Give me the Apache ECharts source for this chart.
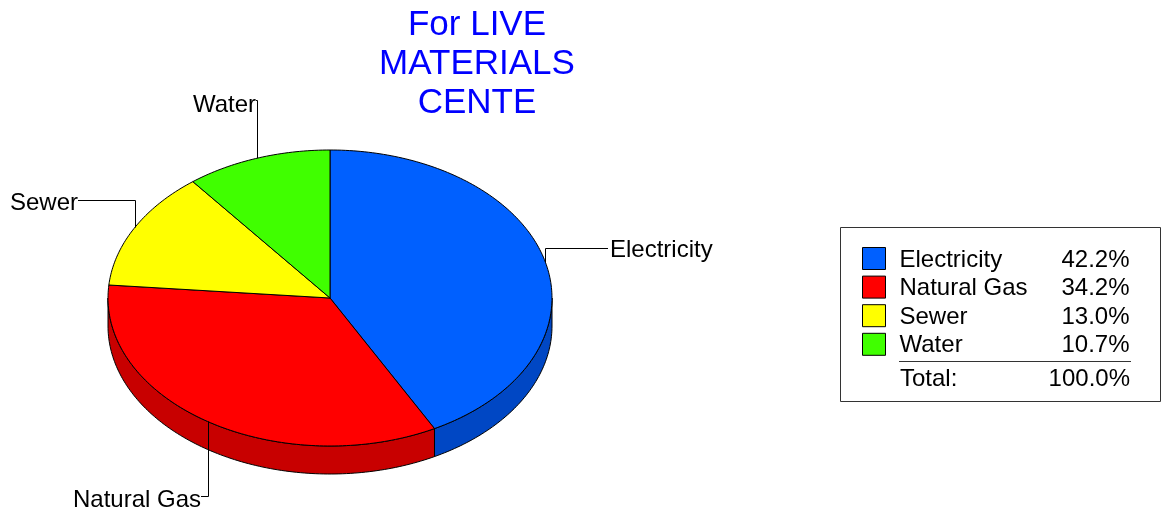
<!DOCTYPE html>
<html>
<head>
<meta charset="utf-8">
<style>html,body{margin:0;padding:0;background:#fff}#c{width:1163px;height:512px}</style>
<script src="https://cdn.jsdelivr.net/npm/echarts@6/dist/echarts.min.js"></script>
</head>
<body>
<div id="c"></div>
<script>
const titleLines = ['For LIVE', 'MATERIALS', 'CENTE'];
const categories = ['Electricity', 'Natural Gas', 'Sewer', 'Water'];
const shares = [42.2, 34.2, 13.0, 10.7];
const totalLabel = 'Total:';
const totalValue = '100.0%';
const topColors = ['#0060ff', '#ff0000', '#ffff00', '#40ff00'];
const wallColors = ['#0047c4', '#c80000', '#c8c800', '#30c800'];

// layout only
const FONT = '"Liberation Sans", Arial, sans-serif';
const cx = 330, cy = 298, rx = 222, ry = 148, depth = 28;
const leaderEnds = [[608, 248], [201, 496], [78, 200], [256, 100]];
const labelAnchors = [
  { x: 610, y: 250, align: 'left' },
  { x: 201, y: 500, align: 'right' },
  { x: 78, y: 203, align: 'right' },
  { x: 256, y: 105, align: 'right' }
];

const fmt = v => v.toFixed(1) + '%';
const pt = (deg, dy) => {
  const t = deg * Math.PI / 180;
  return [cx + rx * Math.sin(t), cy - ry * Math.cos(t) + (dy || 0)];
};
const arc = (a, b, dy) => {
  const out = [];
  const n = Math.max(1, Math.ceil(Math.abs(b - a)));
  for (let i = 0; i <= n; i++) out.push(pt(a + (b - a) * i / n, dy));
  return out;
};

let cum = 0;
const series = categories.map((name, i) => {
  const start = cum / 100 * 360;
  cum += shares[i];
  const end = Math.min(cum / 100 * 360, 360);
  return {
    type: 'custom',
    name,
    coordinateSystem: 'none',
    silent: true,
    animation: false,
    z: 2 + i,
    itemStyle: { color: topColors[i] },
    data: [[shares[i]]],
    renderItem: () => {
      const children = [];
      const wa = Math.max(start, 90), wb = Math.min(end, 270);
      if (wb > wa) {
        const wall = arc(wa, wb, 0).concat(arc(wb, wa, depth));
        children.push({
          type: 'polygon', shape: { points: wall },
          style: { fill: wallColors[i], stroke: '#000', lineWidth: 1, lineJoin: 'round' }
        });
      }
      const face = [[cx, cy]].concat(arc(start, end, 0));
      children.push({
        type: 'polygon', shape: { points: face },
        style: { fill: topColors[i], stroke: '#000', lineWidth: 1, lineJoin: 'round' }
      });
      const mid = pt((start + end) / 2, 0);
      const lx = Math.round(mid[0]) + 0.5;
      const end2 = leaderEnds[i];
      children.push({
        type: 'polyline',
        shape: { points: [[lx, mid[1]], [lx, end2[1] + 0.5], [end2[0], end2[1] + 0.5]] },
        style: { fill: null, stroke: '#000', lineWidth: 1 }
      });
      const a = labelAnchors[i];
      children.push({
        type: 'text',
        style: {
          x: a.x, y: a.y, text: name, fill: '#000', font: '24px ' + FONT,
          textAlign: a.align, textVerticalAlign: 'middle'
        }
      });
      return { type: 'group', children };
    }
  };
});

const option = {
  backgroundColor: '#fff',
  animation: false,
  title: {
    text: titleLines.join('\n'),
    left: 472, top: 1, textAlign: 'center',
    textStyle: { color: '#0000ff', fontFamily: FONT, fontSize: 35, fontWeight: 'normal', lineHeight: 39 }
  },
  legend: {
    orient: 'vertical', left: 862, top: 247, padding: 0,
    itemWidth: 23, itemHeight: 22, itemGap: 3.6,
    selectedMode: false,
    icon: 'rect',
    itemStyle: { borderColor: '#000', borderWidth: 1 },
    data: categories,
    formatter: name => `{n|${name}}{v|${fmt(shares[categories.indexOf(name)])}}`,
    textStyle: {
      rich: {
        n: { fontFamily: FONT, fontSize: 24, color: '#000', width: 130, padding: [3, 0, 0, 9], height: 22 },
        v: { fontFamily: FONT, fontSize: 24, color: '#000', width: 100, align: 'right', padding: [3, 0, 0, 0], height: 22 }
      }
    }
  },
  graphic: [
    { type: 'rect', z: 0, shape: { x: 840.5, y: 227.5, width: 320, height: 174 },
      style: { fill: '#fff', stroke: '#333', lineWidth: 1 } },
    { type: 'line', z: 1, shape: { x1: 899, y1: 361.5, x2: 1131, y2: 361.5 },
      style: { stroke: '#333', lineWidth: 1 } },
    { type: 'text', z: 1, style: { x: 900, y: 379, text: totalLabel, fill: '#000', font: '24px ' + FONT, textVerticalAlign: 'middle' } },
    { type: 'text', z: 1, style: { x: 1130, y: 379, text: totalValue, fill: '#000', font: '24px ' + FONT, textAlign: 'right', textVerticalAlign: 'middle' } }
  ],
  series
};
const chart = echarts.init(document.getElementById('c'), null, { renderer: 'canvas' });
chart.setOption(option);
</script>
</body>
</html>
